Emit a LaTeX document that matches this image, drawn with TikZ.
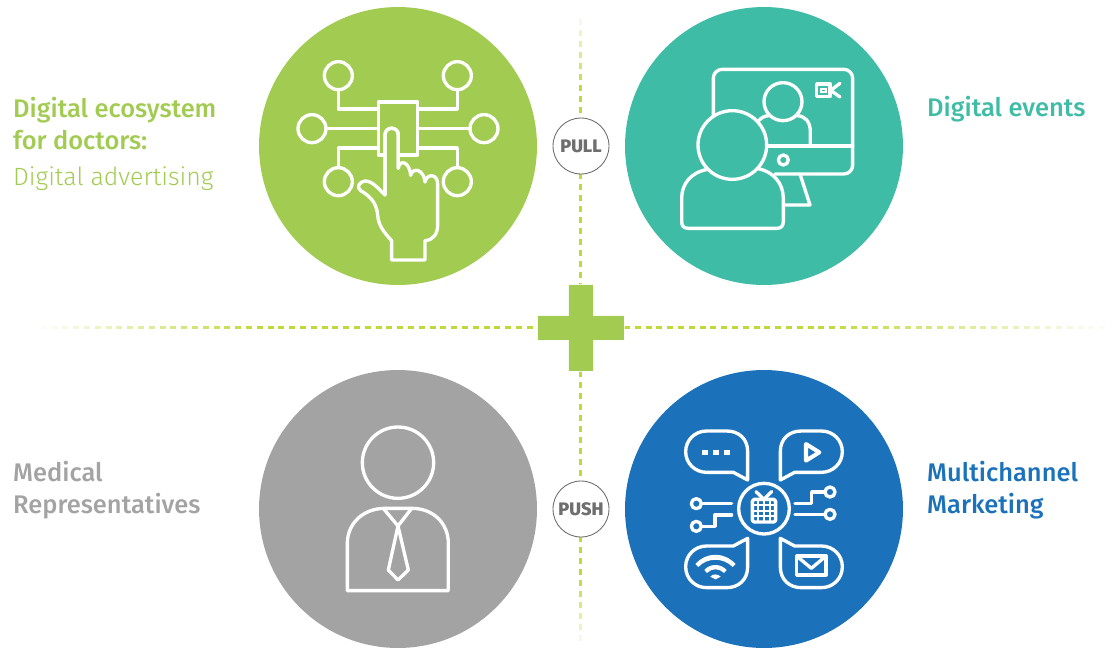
\documentclass[tikz,border=0pt]{standalone}
\usepackage{fontspec}
\setmainfont{Fira Sans Medium}
\newfontfamily\lightfont{Fira Sans Light}
\definecolor{cgreen}{HTML}{A2CB52}
\definecolor{cteal}{HTML}{3FBCA6}
\definecolor{cgrey}{HTML}{A3A3A3}
\definecolor{cblue}{HTML}{1B72BA}
\definecolor{cdash}{HTML}{BFD93A}
\definecolor{cpull}{HTML}{6E6E6E}
\tikzset{
  disc/.style={circle,minimum size=5.56cm,inner sep=0pt,outer sep=0pt},
  ico/.style={draw=white,line width=1.9pt,line join=round,line cap=round},
  icot/.style={draw=white,line width=1.1pt,line join=miter},
  zoomed/.style={shift={(#1)},x=0.00667cm,y=-0.00667cm},
  dashseg/.style={draw=cdash,line width=1.4pt},
  pp/.style={circle,draw=cpull,line width=0.5pt,fill=white,minimum size=1.12cm,inner sep=0pt,font=\fontsize{10.3}{11}\selectfont\bfseries,text=cpull},
  lab/.style={anchor=west,align=left,font=\fontsize{14.5}{18.4}\selectfont}
}
\begin{document}
\begin{tikzpicture}[x=0.02cm,y=-0.02cm]
\useasboundingbox (0,0) rectangle (1117,647);
\begin{scope}
\clip (0,0) rectangle (1117,647);
% dashed axes, fading out at their ends
\foreach \i in {0,...,99} {
  \pgfmathsetmacro{\xa}{30+\i*10.8}
  \pgfmathsetmacro{\op}{min(1,min((\xa-30)/230,(1117-\xa)/300))}
  \draw[dashseg,draw opacity=\op] (\xa,327.3) -- ++(6,0);
}
\foreach \i in {0,...,57} {
  \pgfmathsetmacro{\ya}{8+\i*11}
  \pgfmathsetmacro{\op}{min(1,min((\ya-8)/80,(645-\ya)/70))}
  \draw[dashseg,draw opacity=\op] (580.7,\ya) -- ++(0,6);
}
% discs
\node[disc,fill=cgreen] (g) at (398,146) {};
\node[disc,fill=cteal] (t) at (764,146) {};
\node[disc,fill=cgrey] (k) at (398,509) {};
\node[disc,fill=cblue] (b) at (764,509) {};
\end{scope}
% plus
\fill[cgreen,draw=white,draw opacity=.7,line width=.4pt] (568.7,284.7) -- (593.3,284.7) -- (593.3,315.7) -- (624,315.7) -- (624,340) -- (593.3,340) -- (593.3,371) -- (568.7,371) -- (568.7,340) -- (537.7,340) -- (537.7,315.7) -- (568.7,315.7) -- cycle;
\node[pp] (pull) at (581,146) {\raisebox{-0.6pt}{PULL}};
\node[pp] (push) at (581,509) {\raisebox{-0.6pt}{PUSH}};
% green icon
\begin{scope}[zoomed={270,30}]
\foreach \p in {(205,137),(562,137),(126,296),(642,296),(205,455),(562,455)}
  \draw[ico] \p circle (42);
\draw[ico] (325,216) rectangle (443,375);
\draw[ico] (205,179) -- (205,237) -- (325,237);
\draw[ico] (562,179) -- (562,237) -- (443,237);
\draw[ico] (168,296) -- (325,296);
\draw[ico] (600,296) -- (443,296);
\draw[ico] (205,413) -- (205,354) -- (325,354);
\draw[ico] (562,413) -- (562,354) -- (443,354);
\draw[ico,fill=cgreen] (345,495) -- (345,315) .. controls (345,288) and (385,288) .. (385,315) -- (385,415)
  .. controls (388,388) and (418,392) .. (422,436)
  .. controls (428,410) and (462,418) .. (465,456)
  .. controls (470,430) and (503,430) .. (503,462)
  -- (503,585) .. controls (503,612) and (490,630) .. (465,632)
  -- (465,690) -- (365,690) -- (365,632)
  .. controls (340,605) and (325,585) .. (323,555)
  .. controls (320,515) and (295,495) .. (272,482)
  .. controls (258,472) and (268,455) .. (285,453)
  .. controls (305,452) and (325,475) .. (345,495);
\fill[cgreen] (351,340) rectangle (379,500);
\draw[ico] (345,495) -- (345,315) .. controls (345,288) and (385,288) .. (385,315) -- (385,415);
\end{scope}
% teal icon
\begin{scope}[zoomed={660,50}]
\draw[ico,rounded corners=5pt] (160,200) -- (160,58) -- (578,58) -- (578,372) -- (345,372);
\draw[ico] (322,288) -- (578,288);
\draw[ico] (370,330) circle (15);
\draw[ico] (420,372) -- (450,465) -- (372,465);
\draw[ico] (470,102) rectangle (510,140);
\draw[icot] (484,116) rectangle (498,127);
\draw[ico] (540,100) -- (512,121) -- (540,141);
\draw[ico] (369,155) circle (57);
\draw[ico] (296,212) .. controls (305,202) and (315,197) .. (328,197);
\draw[ico] (410,197) .. controls (435,197) and (451,215) .. (451,245) -- (451,288);
\draw[ico,fill=cteal] (217,285) circle (103);
\draw[ico] (145,358) .. controls (95,365) and (65,400) .. (65,445) -- (65,515) .. controls (65,528) and (72,535) .. (85,535) -- (350,535) .. controls (363,535) and (370,528) .. (370,515) -- (370,445) .. controls (370,400) and (340,365) .. (295,356);
\end{scope}
% grey icon
\begin{scope}[zoomed={330,410}]
\draw[ico] (204,158) circle (107);
\draw[ico] (52,542) -- (52,400) .. controls (52,340) and (100,295) .. (165,295) -- (245,295) .. controls (310,295) and (355,340) .. (355,400) -- (355,542) -- cycle;
\draw[ico] (160,295) -- (204,348) -- (245,295);
\draw[ico] (204,348) -- (175,480) -- (204,510) -- (235,480) -- cycle;
\end{scope}
% blue icon
\begin{scope}[zoomed={670,420}]
\draw[ico] (233,180) -- (233,95) .. controls (233,55) and (205,33) .. (170,33) -- (110,33) .. controls (75,33) and (47,60) .. (47,95) .. controls (47,130) and (75,157) .. (110,157) -- (190,157) -- cycle;
\draw[ico] (331,180) -- (331,95) .. controls (331,55) and (359,33) .. (394,33) -- (454,33) .. controls (489,33) and (517,60) .. (517,95) .. controls (517,130) and (489,157) .. (454,157) -- (374,157) -- cycle;
\draw[ico] (233,355) -- (233,440) .. controls (233,480) and (205,503) .. (170,503) -- (110,503) .. controls (75,503) and (47,476) .. (47,440) .. controls (47,405) and (75,378) .. (110,378) -- (190,378) -- cycle;
\draw[ico] (331,355) -- (331,440) .. controls (331,480) and (359,503) .. (394,503) -- (454,503) .. controls (489,503) and (517,476) .. (517,440) .. controls (517,405) and (489,378) .. (454,378) -- (374,378) -- cycle;
\foreach \x in {97,130,163} \fill[white] (\x,90) rectangle +(16,16);
\draw[ico,line width=2.3pt] (408,72) -- (408,122) -- (448,97) -- cycle;
\draw[ico] (282,266) circle (76);
\draw[ico,rounded corners=1pt] (247,238) rectangle (317,306);
\foreach \x in {264.5,282,299.5} \draw[icot] (\x,238) -- (\x,306);
\foreach \y in {255,272,289} \draw[icot] (247,\y) -- (317,\y);
\draw[ico] (258,215) -- (282,238) -- (305,215);
\draw[ico] (79,251) circle (15); \draw[ico] (94,251) -- (185,251);
\draw[ico] (79,319) circle (15); \draw[ico] (94,319) -- (135,319) -- (135,285) -- (185,285);
\draw[ico] (480,216) circle (15); \draw[ico] (465,216) -- (425,216) -- (425,250) -- (375,250);
\draw[ico] (480,283) circle (15); \draw[ico] (465,283) -- (375,283);
% wifi
\fill[white] (76,432) .. controls (110,395) and (162,395) .. (197,432) -- (188,441) .. controls (160,412) and (112,412) .. (85,441) -- cycle;
\fill[white] (103,450) .. controls (120,430) and (152,430) .. (170,450) -- (162,459) .. controls (148,444) and (125,444) .. (111,459) -- cycle;
\fill[white] (121,470) .. controls (128,461) and (143,461) .. (152,470) -- (137,478) -- cycle;
\draw[ico] (380,408) rectangle (468,465);
\draw[ico] (380,408) -- (424,445) -- (468,408);
\end{scope}
% labels
\node[lab,text=cgreen] (l1) at (7,144) {Digital ecosystem\\for doctors:\\[2.2pt]{\lightfont\fontsize{14.2}{18.4}\selectfont Digital advertising}};
\node[lab,text=cteal] (l2) at (921,109) {Digital events};
\node[lab,text=cgrey] (l3) at (7,490) {Medical\\Representatives};
\node[lab,text=cblue] (l4) at (921,490) {Multichannel\\Marketing};
\end{tikzpicture}
\end{document}
